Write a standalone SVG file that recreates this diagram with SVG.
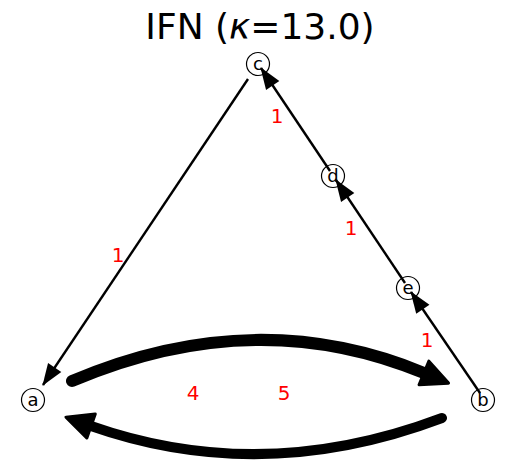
<svg xmlns="http://www.w3.org/2000/svg" width="515" height="466" viewBox="0 0 515 466">
<style>
.node circle{fill:none;stroke:#000;stroke-width:1.2}
.node text{font-family:"DejaVu Sans",sans-serif;font-size:18px;fill:#000;text-anchor:middle}
.lbl{font-family:"DejaVu Sans",sans-serif;font-size:20px;fill:#ff0000;text-anchor:middle}
.thin{stroke:#000;stroke-width:2.4;fill:none}
.thick{stroke:#000;fill:none;stroke-linecap:round}
</style>
<defs>
<marker id="ah" markerUnits="userSpaceOnUse" markerWidth="26" markerHeight="20" viewBox="0 -10 24 20" refX="21" refY="0" orient="auto">
<path d="M0,-8 L22,0 L0,8 Z" fill="#000"/>
</marker>
<marker id="big" markerUnits="userSpaceOnUse" markerWidth="36" markerHeight="34" viewBox="-4 -16 34 32" refX="0" refY="0" orient="auto">
<path d="M0,-12 L25,0 L0,12 Z" fill="#000" stroke="#000" stroke-width="3" stroke-linejoin="round"/>
</marker>
</defs>
<rect width="515" height="466" fill="#fff"/>
<text x="260" y="39" font-family="DejaVu Sans,sans-serif" font-size="36" text-anchor="middle" fill="#000">IFN (<tspan font-style="italic">κ</tspan>=13.0)</text>
<g id="connectors">
<line class="thin" x1="248" y1="79" x2="43" y2="385" marker-end="url(#ah)"/>
<line class="thin" x1="330" y1="171" x2="261" y2="68" marker-end="url(#ah)"/>
<line class="thin" x1="405" y1="283" x2="336" y2="180" marker-end="url(#ah)"/>
<line class="thin" x1="480" y1="393" x2="411" y2="292" marker-end="url(#ah)"/>
<path class="thick" stroke-width="12" d="M72,381 Q255,303 424,373" marker-end="url(#big)"/>
<path class="thick" stroke-width="10" d="M442,418 Q262,486 91,426" marker-end="url(#big)"/>
</g>
<g id="edge-labels">
<text class="lbl" x="118" y="262">1</text>
<text class="lbl" x="277" y="123">1</text>
<text class="lbl" x="351" y="235">1</text>
<text class="lbl" x="427" y="347">1</text>
<text class="lbl" x="193" y="400">4</text>
<text class="lbl" x="284" y="400">5</text>
</g>
<g id="node-a" class="node"><circle cx="33" cy="400" r="11.5"/><text x="33" y="406">a</text></g>
<g id="node-b" class="node"><circle cx="483" cy="400" r="11.5"/><text x="483" y="406">b</text></g>
<g id="node-c" class="node"><circle cx="258" cy="64" r="11.5"/><text x="258" y="70">c</text></g>
<g id="node-d" class="node"><circle cx="333" cy="176" r="11.5"/><text x="333" y="182">d</text></g>
<g id="node-e" class="node"><circle cx="408" cy="288" r="11.5"/><text x="408" y="294">e</text></g>
</svg>
